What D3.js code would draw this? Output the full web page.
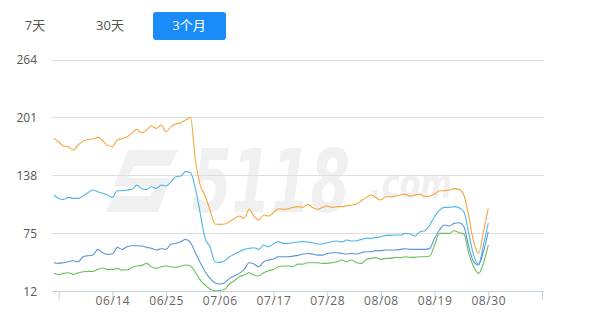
<!DOCTYPE html>
<html>
<head>
<meta charset="utf-8">
<script src="https://cdn.jsdelivr.net/npm/d3@7/dist/d3.min.js"></script>
<style>
  html, body { margin: 0; padding: 0; background: #fff; }
  svg { display: block; }
</style>
</head>
<body>
<svg id="chart" width="610" height="330"></svg>
<script>
// ---------- data ----------
const startDate = "2024-06-02";
const yTicks = [12, 75, 138, 201, 264];
const tabs = ["7天", "30天", "3个月"];

const orange = [178.2,174.5,169.8,169,165.5,171,175.3,177,177.4,179.2,175.6,170.5,169,176.3,177.8,180,183.6,188,184.3,187.2,191.6,189,192.7,185.4,190.9,193.8,195.2,198.1,201,
  154.6,127.3,115.4,100,84.9,84.5,84.9,87.4,91,93.6,91,100.9,93.6,89.2,94.7,93.6,97.2,101.6,100.9,101.6,103,103.8,103,106.3,103,100.9,103,104.5,103,103.8,
  103.8,104.8,105.6,106.7,110.3,113.9,116.5,113.9,111,114.6,114.6,115.4,116.5,117.2,115.4,116.5,117.5,114.6,115.4,117.5,121.2,121.2,121.9,123.4,122.6,116.5,92.9,65.7,53,76.5,101.9];
const cyan = [116.5,112.8,111.7,113.9,112.8,112.8,115.4,119,121.9,120.1,118.3,116.5,113.9,121.2,121.2,121.9,122.6,127.3,123.7,122.6,125.5,123.7,127.3,126.3,131,136.4,137.1,141.9,140.8,
  123.7,96.5,69.3,60.2,43.9,43.2,45,49.3,52.2,54.8,57.3,58.4,59.1,57.3,62,60.2,63.1,65.7,63.8,63.8,64.6,65.3,65.7,65.3,64.6,63.1,63.1,64.6,65.7,66.4,
  65.3,67.5,66.4,66.7,68.2,69.3,69.3,70.4,71.1,72.6,72.6,72.9,72.9,74.7,74,71.8,76.5,77.6,83.8,92.9,100.1,103,103,103.8,102.7,98.3,74.7,51.1,41.3,62,86.3];
const blue = [42.8,42.1,42.8,43.9,45,43.9,49.3,50.4,51.1,57.3,53.7,51.9,52.2,59.5,57.3,60.2,61.3,61.3,61,59.5,58.4,56.6,58,57.3,63.1,63.8,65.7,68.2,64.6,
  53.7,42.8,33,25.7,21,19.6,21,25.7,28.6,31.2,35.5,42.8,41.3,38.4,43.9,45.7,46.8,49.3,49.3,49.3,50,50.8,52.2,52.9,52.2,51.1,51.1,52.9,53.7,53.7,
  52.9,52.2,52.9,52.2,53.7,54.8,54.8,55.9,55.9,56.6,56.6,56.6,57.3,58,57.3,57.3,57.3,57.3,58.4,69.3,78.4,83.8,82.7,85.6,86.3,82,60.2,43.9,40.3,54.8,76.5];
const green = [31.2,29.7,31.2,31.9,30.1,31.9,33,33.4,33.4,35.5,37,35.5,35.5,36.6,34.8,34.8,37.7,39.2,39.9,42.1,38.4,36.6,38.4,39.2,38.4,37.7,39.2,40.3,39.2,
  32.3,23.9,18.5,14.1,12.3,12.5,13.8,19.6,23.2,27.5,29.4,31.9,29.4,28.3,31.9,34.1,35.5,38.4,39.2,39.2,38.4,41.3,41.3,42.8,42.8,42.8,42.1,42.1,42.8,43.9,
  45.7,43.9,45.7,42.8,42.1,46.4,47.5,48.3,46.4,47.5,47.5,48.6,48.3,49.3,48.6,48.6,49.3,49.3,50,62,74.7,74.7,74.7,77.6,75.5,74,53,38.4,31.2,42.1,62];

const seriesList = [
  { name: "orange", values: orange, color: "#f4a63c" },
  { name: "cyan", values: cyan, color: "#4db6e6" },
  { name: "blue", values: blue, color: "#5a93d6" },
  { name: "green", values: green, color: "#6bbf5f" }
];

// ---------- setup ----------
const svg = d3.select("#chart");
const parse = d3.timeParse("%Y-%m-%d");
const d0 = parse(startDate);
const dates = d3.range(orange.length).map(i => d3.timeDay.offset(d0, i));
const axisEnd = d3.timeDay.offset(d0, 100);
const tickDates = d3.range(10).map(k => d3.timeDay.offset(d0, 1 + 11 * k));

const gridLeft = 52, gridRight = 544;
const x = d3.scaleTime().domain([d0, axisEnd]).range([53.8, 542]);
const y = d3.scaleLinear().domain([12, 264]).range([291, 59.5]);

const font = "'Open Sans', 'Noto Sans CJK SC', sans-serif";

// ---------- tabs ----------
const tabG = svg.append("g");
tabG.append("rect").attr("x", 153).attr("y", 12).attr("width", 73).attr("height", 28)
  .attr("rx", 3).attr("fill", "#1a8cfa");
const tabX = [35, 110, 189];
tabs.forEach((t, i) => {
  tabG.append("text").attr("x", tabX[i]).attr("y", 30)
    .attr("text-anchor", "middle").attr("font-family", font).attr("font-size", 13)
    .attr("fill", i === 2 ? "#ffffff" : "#555555").text(t);
});

// ---------- watermark ----------
const wm = svg.append("g").attr("fill", "#f0f0f0");
wm.append("path")
  .attr("d", "M128,150 L178,150 L170,166 L134,166 L128,178 L170,178 L158,212 L106,212 L114,196 L150,196 L155,186 L114,186 Z");
function squeezed(txt, x0, y0, size, width) {
  const t = wm.append("text").attr("x", 0).attr("y", 0)
    .attr("font-family", "DejaVu Sans").attr("font-weight", "bold").attr("font-style", "italic")
    .attr("font-size", size).text(txt);
  const w = t.node().getComputedTextLength() || width;
  t.attr("transform", `translate(${x0},${y0}) scale(${width / w},1)`);
}
squeezed("5118", 192, 212, 88, 158);
squeezed(".com", 370, 198, 42, 82);

// ---------- grid + y labels ----------
const gridG = svg.append("g");
yTicks.forEach(v => {
  if (v !== 12) {
    gridG.append("line").attr("x1", gridLeft).attr("x2", gridRight)
      .attr("y1", Math.round(y(v)) + 0.5).attr("y2", Math.round(y(v)) + 0.5)
      .attr("stroke", "#dedede").attr("stroke-width", 1);
  }
  gridG.append("text").attr("x", 37).attr("y", y(v) + 4.5)
    .attr("text-anchor", "end").attr("font-family", font).attr("font-size", 12)
    .attr("fill", "#555").text(v);
});

// ---------- x axis ----------
const axisY = Math.round(y(12)) + 0.5;
const xAxis = d3.axisBottom(x).tickValues(tickDates).tickSize(8)
  .tickFormat((d, i) => (i === 0 || i === tickDates.length - 1) ? "" : d3.timeFormat("%m/%d")(d));
const axG = svg.append("g").attr("transform", `translate(0,${axisY})`).call(xAxis);
axG.select(".domain").attr("d", `M${gridLeft},0H${gridRight}`).attr("stroke", "#c2d2df");
axG.selectAll(".tick line").attr("stroke", "#c2d2df");
axG.selectAll(".tick text").attr("font-family", font).attr("font-size", 12)
  .attr("fill", "#666").attr("dy", "0.2em").attr("letter-spacing", "0.6px");

// ---------- lines ----------
const line = d3.line().x((d, i) => x(dates[i])).y(d => y(d)).curve(d3.curveMonotoneX);
const linesG = svg.append("g");
seriesList.forEach(s => {
  linesG.append("path").datum(s.values).attr("d", line)
    .attr("fill", "none").attr("stroke", s.color).attr("stroke-width", 1.1);
});
</script>
</body>
</html>
